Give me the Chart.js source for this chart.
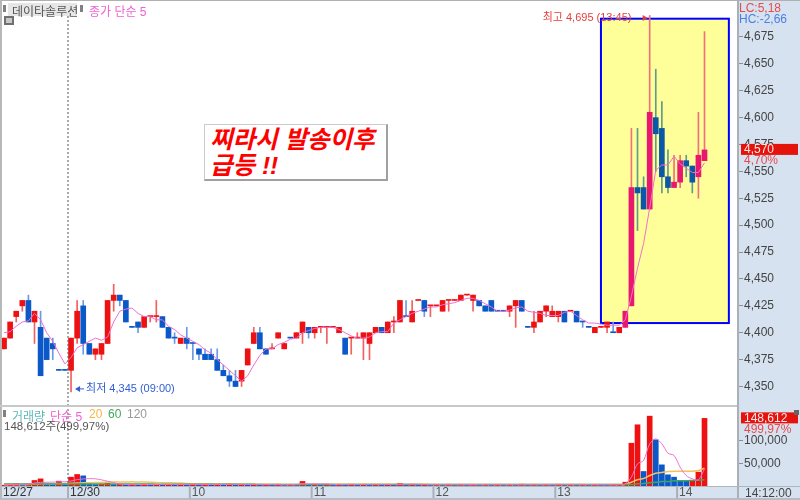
<!DOCTYPE html>
<html>
<head>
<meta charset="utf-8">
<script src="https://cdn.jsdelivr.net/npm/chart.js@4"></script>
<style>
  html, body { margin: 0; padding: 0; background: #fff; }
  #wrap { position: relative; width: 800px; height: 500px; overflow: hidden;
    font-family: "Liberation Sans", "Noto Sans CJK KR", sans-serif; font-size: 11px; color: #444; }
  #wrap div, #wrap span { position: absolute; white-space: nowrap; }
  canvas { position: absolute; left: 0; }
  #priceChart { top: 0; }
  #volumeChart { top: 405px; }
  .sideBar { left: 738px; top: 0; width: 62px; height: 500px; background: #d6e2f0; }
  .bottomBar { left: 0; top: 486px; width: 800px; height: 12px; background: #d6e2f0; }
  .note { left: 204px; top: 124px; width: 181px; height: 54px; background: #fff;
    border: 1px solid #ccc; border-right: 2px solid #a0a0a0; border-bottom: 2px solid #a0a0a0;
    color: #ff0000; font-weight: bold; font-style: italic; font-size: 24.5px; line-height: 26px; }
</style>
</head>
<body>
<div id="wrap">
  <div class="sideBar"></div>
  <div class="bottomBar"></div>
  <canvas id="priceChart" width="800" height="405"></canvas>
  <canvas id="volumeChart" width="800" height="95"></canvas>

  <!-- frame lines -->
  <div style="left:0;top:0;width:800px;height:1px;background:#b0b0b0"></div>
  <div style="left:0;top:0;width:2px;height:500px;background:#b8b8b8"></div>
  <div style="left:0;top:405px;width:738px;height:2px;background:#c8c8c8"></div>
  <div style="left:737px;top:0;width:2px;height:500px;background:#aab0b8"></div>
  <div style="left:0;top:486px;width:800px;height:1px;background:#b0b6be"></div>
  <div style="left:0;top:498px;width:800px;height:2px;background:#b8bcc2"></div>

  <!-- top legend -->
  <div style="left:3px;top:5px;width:3px;height:7px;background:#808080"></div>
  <div style="left:8px;top:3px;width:69px;height:13px;background:#e6e6e6"></div>
  <span style="left:12px;top:2px;font-size:12px;color:#555">데이타솔루션</span>
  <div style="left:80px;top:5px;width:3px;height:7px;background:#808080"></div>
  <span style="left:89px;top:2px;font-size:12px;color:#f060d0">종가 단순 5</span>
  <div style="left:4px;top:16px;width:10px;height:9px;background:#707070"></div>
  <div style="left:6px;top:18px;width:6px;height:5px;background:#c8c8c8"></div>

  <!-- volume legend -->
  <div style="left:3px;top:410px;width:3px;height:7px;background:#808080"></div>
  <span style="left:12px;top:407px;font-size:12px;color:#5fb8b8">거래량</span>
  <span style="left:50px;top:407px;font-size:12px;color:#f060d0">단순 5</span>
  <span style="left:89px;top:407px;font-size:12px;color:#f5b840">20</span>
  <span style="left:108px;top:407px;font-size:12px;color:#40a860">60</span>
  <span style="left:127px;top:407px;font-size:12px;color:#999">120</span>
  <span style="left:4px;top:417px;font-size:11.5px;color:#555">148,612주(499,97%)</span>

  <!-- right side captions -->
  <span style="left:739px;top:1px;font-size:12px;color:#e84a4a">LC:5,18</span>
  <span style="left:739px;top:12px;font-size:12px;color:#4a80e0">HC:-2,66</span>
  <span style="left:745px;top:486px;font-size:12px;line-height:14px;color:#444">14:12:00</span>

  <div class="note"><span style="left:5px;top:2px">찌라시 발송이후<br>급등 !!</span></div>
</div>

<script>
// candles, one per slot, oldest first
const opens = [4385,4395,4415,4425,4430,4410,4405,4395,4390,4365,4365,4365,4395,4425,4390,4380,4380,4390,4430,4435,
  4430,4405,4410,4405,4415,4415,4415,4405,4395,4390,4395,4390,4385,4380,4380,4375,4365,4360,4355,4355,
  4370,4390,4400,4385,4385,4395,4385,4395,4395,4400,4405,4400,4405,4405,4405,4400,4395,4395,4395,4395,
  4390,4400,4405,4400,4410,4410,4415,4410,4430,4430,4425,4425,4420,4430,4430,4430,4435,4430,4430,4425,
  4430,4420,4420,4420,4425,4430,4405,4405,4410,4420,4415,4415,4420,4420,4420,4410,4405,4400,4405,4405,
  4400,4400,4405,4425,4535,4535,4515,4600,4590,4545,4535,4540,4560,4555,4545,4560];
const closes = [4395,4410,4420,4430,4410,4420,4360,4375,4385,4365,4365,4395,4420,4390,4380,4385,4390,4430,4435,4430,
  4410,4405,4405,4415,4415,4415,4405,4395,4395,4395,4390,4390,4380,4375,4375,4365,4360,4355,4350,4365,
  4385,4400,4385,4380,4385,4400,4390,4395,4400,4410,4400,4405,4405,4405,4405,4405,4380,4395,4395,4400,
  4400,4405,4400,4410,4410,4430,4415,4420,4430,4420,4425,4425,4430,4430,4430,4435,4435,4435,4425,4420,
  4420,4420,4420,4425,4430,4420,4405,4410,4420,4425,4420,4420,4410,4420,4410,4410,4405,4405,4405,4410,
  4400,4405,4420,4535,4530,4515,4605,4585,4545,4535,4540,4560,4555,4540,4565,4570];
const highs = [4395,4410,4420,4430,4435,4420,4420,4395,4395,4365,4365,4395,4430,4430,4390,4385,4390,4430,4445,4435,
  4430,4405,4410,4415,4415,4430,4415,4405,4400,4395,4405,4390,4385,4385,4385,4385,4370,4365,4365,4365,
  4385,4405,4405,4385,4390,4400,4390,4395,4400,4410,4405,4405,4405,4405,4405,4405,4395,4395,4400,4400,
  4400,4405,4405,4410,4415,4430,4430,4430,4430,4430,4425,4425,4430,4430,4430,4435,4435,4435,4430,4425,
  4430,4420,4420,4425,4430,4430,4405,4420,4420,4425,4425,4420,4420,4420,4420,4410,4405,4405,4405,4410,
  4410,4405,4420,4590,4590,4545,4695,4645,4615,4570,4565,4565,4565,4555,4605,4680];
const lows = [4385,4395,4410,4420,4410,4390,4360,4375,4375,4365,4365,4345,4390,4380,4380,4375,4375,4390,4420,4425,
  4410,4405,4400,4405,4410,4410,4405,4395,4390,4390,4385,4375,4375,4375,4375,4365,4360,4350,4350,4350,
  4370,4390,4385,4380,4385,4395,4385,4395,4395,4390,4395,4395,4400,4390,4405,4400,4380,4380,4395,4375,
  4375,4400,4400,4400,4400,4410,4415,4410,4430,4415,4415,4425,4420,4420,4430,4430,4435,4420,4425,4420,
  4420,4420,4420,4415,4405,4420,4405,4400,4410,4415,4415,4410,4410,4420,4410,4405,4405,4400,4405,4400,
  4400,4400,4405,4425,4495,4515,4515,4550,4530,4530,4535,4535,4545,4530,4525,4560];
const closeMa5 = [4400,4401,4406,4410,4411,4418,4412,4400,4392,4381,4371,4377,4386,4389,4392,4395,4393,4396,4410,4420,
  4422,4423,4418,4415,4415,4412,4412,4406,4403,4398,4395,4392,4389,4384,4381,4375,4370,4365,4360,4355,
  4360,4370,4379,4385,4385,4389,4391,4394,4395,4400,4402,4404,4405,4405,4405,4403,4400,4397,4395,4395,
  4396,4400,4401,4401,4409,4412,4415,4418,4420,4422,4424,4424,4426,4427,4428,4430,4432,4432,4430,4427,
  4424,4420,4420,4421,4423,4424,4420,4419,4418,4416,4416,4416,4419,4420,4416,4412,4409,4409,4408,4407,
  4407,4407,4412,4434,4460,4483,4516,4551,4556,4556,4564,4557,4553,4549,4549,4558];
// flat candles printed in blue, every other flat one is red
const flatBlue = [9,10,21,28,31,47,66,81,82,86,95,96,100];

const volumes = [1800,2300,4700,2500,4200,12100,15700,4800,2800,10600,3000,19400,25300,22300,4500,3400,3900,8400,3200,3800,
  3000,3600,3200,3900,3100,3500,3000,3700,3300,4000,3400,3800,2900,3300,3000,3900,3500,4100,3200,3600,
  3100,3700,2800,3400,3000,3800,3300,3600,3200,10000,3300,3800,3100,3600,2900,3400,3200,3900,3000,3700,
  3300,3800,3200,3500,3100,6000,3200,3700,2900,3500,3100,3600,3000,3800,3200,3500,2900,3400,3100,3700,
  3300,3600,2800,3500,3000,3900,3100,3400,3000,3700,3200,3800,2900,3500,3100,3600,2800,3300,3000,2800,
  3100,3300,8400,94000,134500,31900,153500,101500,46500,24600,19400,12100,11800,12000,30400,148612];
const volMa5 = [3200,3400,3600,3900,4300,6500,8000,8200,8500,9000,9200,11000,14000,15500,16200,15800,13500,10500,7500,4500,
  3600,3500,3400,3500,3400,3500,3400,3500,3400,3500,3500,3600,3500,3400,3300,3400,3500,3600,3600,3500,
  3400,3500,3400,3300,3200,3400,3300,3400,3400,4600,4400,4500,4300,4400,3400,3400,3300,3400,3300,3500,
  3400,3500,3400,3500,3400,3900,3800,3900,3700,3400,3300,3400,3300,3400,3300,3500,3300,3400,3200,3400,
  3300,3400,3300,3300,3200,3400,3300,3400,3300,3400,3300,3500,3300,3400,3300,3400,3200,3300,3100,3100,
  3000,3100,4750,19400,48700,56000,92700,103650,92700,72150,67000,41400,23000,15750,13550,37700];
const volMa20 = [3000,3100,3200,3300,3500,3900,4300,4500,4700,5000,5300,5800,6400,6900,7200,7500,7800,8300,8800,9000,
  9000,9100,9000,8900,8500,7500,7200,7000,6800,6500,5600,5200,5000,4800,4700,4500,4400,4300,4100,3900,
  3800,3700,3700,3600,3600,3600,3500,3500,3500,3800,3800,3800,3800,3800,3800,3700,3700,3700,3700,3700,
  3600,3600,3600,3600,3600,3800,3800,3800,3700,3700,3500,3500,3500,3500,3500,3500,3400,3400,3400,3400,
  3400,3400,3400,3400,3400,3400,3400,3400,3300,3300,3300,3300,3300,3300,3300,3300,3300,3300,3300,3300,
  3300,3300,3300,8400,13550,16500,23000,28200,29650,31850,32600,32600,32600,32600,34050,39200];
const volMa60 = [4200,4200,4200,4200,4300,4300,4300,4300,4400,4400,4400,4400,4500,4500,4500,4500,4500,4500,4500,4400,
  4400,4300,4300,4200,4200,4100,4100,4000,4000,3900,3900,3800,3800,3800,3700,3700,3700,3600,3600,3600,
  3600,3600,3500,3500,3500,3500,3500,3500,3500,3500,3500,3500,3500,3500,3400,3400,3400,3400,3400,3400,
  3400,3400,3400,3400,3400,3400,3400,3400,3400,3400,3400,3400,3400,3400,3400,3400,3400,3400,3400,3400,
  3400,3400,3400,3400,3400,3400,3400,3400,3400,3400,3400,3400,3400,3400,3300,3300,3300,3300,3300,3300,
  3300,3300,3300,3300,4750,5500,6950,8400,9900,9900,11350,11350,11350,12100,12800,13550];

const priceTicks = [4350,4375,4400,4425,4450,4475,4500,4525,4550,4575,4600,4625,4650,4675];
const volumeTicks = [50000,100000];
const dayLabels = ["12/27","12/30","10","11","12","13","14"];
const dayStarts = [0,11,31,51,71,91,111];
const slotCount = 121;
const categories = Array.from({length: slotCount}, (_, i) => {
  let d = 0;
  dayStarts.forEach((s, k) => { if (i >= s) d = k; });
  return dayLabels[d];
});

const lastPrice = 4570, lastPriceText = "4,570", lastPricePct = "4,70%";
const lastVolume = 148612, lastVolumeText = "148,612", lastVolumePct = "499,97%";
const maxLabel = "최고 4,695 (13:45)", minLabel = "최저 4,345 (09:00)";
const maxIndex = 106, minIndex = 11, maxPrice = 4695, minPrice = 4345;
const boxFromIndex = 98, boxToIndex = 119, boxTopPrice = 4692, boxBottomPrice = 4409;
const cursorIndex = 11;

const FONT = '"Liberation Sans", "Noto Sans CJK KR", sans-serif';

const isUp = (i) => closes[i] > opens[i] || (closes[i] === opens[i] && !flatBlue.includes(i));
const bodyColor = (i) => i >= 102
  ? (isUp(i) ? "#e8186e" : "#0b57a8")
  : (isUp(i) ? "#ee1111" : "#0b58c8");
const wickColor = (i) => i >= 102
  ? (isUp(i) ? "#f2707c" : "#5f9a90")
  : (isUp(i) ? "#f26060" : "#6a9ae4");

const commaTick = (v) => v.toLocaleString("en-US");

const gapLeftOf = (scale, i) => scale.getPixelForValue(i) - (scale.getPixelForValue(1) - scale.getPixelForValue(0)) / 2;

const rightAxis = (tickValues, extra) => Object.assign({
  position: "right",
  // no room reserved for half tick labels, the plot runs to the panel edges
  afterFit: (s) => { s.width = 62; s.paddingTop = 0; s.paddingBottom = 0; },
  afterBuildTicks: (s) => { s.ticks = tickValues.map((value) => ({ value })); },
  border: { display: false },
  grid: { drawOnChartArea: false, color: "#8a8f96", tickLength: 5 },
  ticks: {
    autoSkip: false,
    padding: 1,
    color: "#444",
    font: { family: FONT, size: 12 },
    callback: commaTick,
  },
}, extra);

const cursorLine = (chart, top, bottom) => {
  const c = chart.ctx, x = gapLeftOf(chart.scales.x, cursorIndex);
  c.save();
  c.strokeStyle = "#555";
  c.setLineDash([2, 2]);
  c.beginPath();
  c.moveTo(x, top);
  c.lineTo(x, bottom);
  c.stroke();
  c.restore();
};

const tagBox = (c, y, text, pct) => {
  c.fillStyle = "#e4140c";
  c.fillRect(741, y - 6, 57, 11);
  c.font = "12px " + FONT;
  c.textAlign = "left";
  c.textBaseline = "middle";
  c.fillStyle = "#ffe8e8";
  c.fillText(text, 744, y);
  c.fillStyle = "#e84a4a";
  c.fillText(pct, 744, y + 11);
};

const pricePlugin = {
  id: "pricePlugin",
  beforeDatasetsDraw(chart) {
    const c = chart.ctx, x = chart.scales.x, y = chart.scales.y;
    const l = x.getPixelForValue(boxFromIndex), r = x.getPixelForValue(boxToIndex);
    const t = y.getPixelForValue(boxTopPrice), b = y.getPixelForValue(boxBottomPrice);
    c.save();
    c.fillStyle = "#ffff99";
    c.fillRect(l, t, r - l, b - t);
    c.strokeStyle = "#0000ff";
    c.lineWidth = 2;
    c.strokeRect(l, t, r - l, b - t);
    c.restore();
  },
  afterDraw(chart) {
    const c = chart.ctx, x = chart.scales.x, y = chart.scales.y;
    cursorLine(chart, 16, 405);
    c.save();
    c.font = "11px " + FONT;
    c.textBaseline = "middle";
    c.textAlign = "left";
    // high marker
    const hx = x.getPixelForValue(maxIndex), hy = y.getPixelForValue(maxPrice) + 2.5;
    c.fillStyle = "#e83c3c";
    c.fillText(maxLabel, hx - 107, hy);
    c.beginPath();
    c.moveTo(hx - 7, hy - 3);
    c.lineTo(hx - 2, hy);
    c.lineTo(hx - 7, hy + 3);
    c.fill();
    // low marker
    const lx = x.getPixelForValue(minIndex) + 5, ly = y.getPixelForValue(minPrice) - 3;
    c.fillStyle = "#2f5fd0";
    c.strokeStyle = "#2f5fd0";
    c.beginPath();
    c.moveTo(lx, ly);
    c.lineTo(lx + 8, ly);
    c.stroke();
    c.beginPath();
    c.moveTo(lx - 1, ly);
    c.lineTo(lx + 4, ly - 3);
    c.lineTo(lx + 4, ly + 3);
    c.fill();
    c.fillText(minLabel, lx + 10, ly);
    tagBox(c, y.getPixelForValue(lastPrice), lastPriceText, lastPricePct);
    c.restore();
  },
};

const volumePlugin = {
  id: "volumePlugin",
  afterDraw(chart) {
    const c = chart.ctx, x = chart.scales.x, y = chart.scales.y;
    cursorLine(chart, 0, 81);
    c.save();
    c.font = "12px " + FONT;
    c.textBaseline = "middle";
    c.textAlign = "left";
    dayStarts.forEach((s, k) => {
      const px = k === 0 ? 1 : gapLeftOf(x, s);
      if (k > 0) {
        c.fillStyle = "#aab0b8";
        c.fillRect(px - 1, 81, 2, 12);
      }
      c.fillStyle = k < 2 ? "#333" : "#555";
      c.fillText(dayLabels[k], px + 2, 88);
    });
    tagBox(c, y.getPixelForValue(lastVolume), lastVolumeText, lastVolumePct);
    c.fillStyle = "#666";
    c.fillRect(794, 5, 5, 5);
    c.restore();
  },
};

new Chart(document.getElementById("priceChart"), {
  type: "bar",
  data: {
    labels: categories,
    datasets: [
      {
        type: "line",
        data: closeMa5,
        borderColor: "#ee70d0",
        borderWidth: 1,
        pointRadius: 0,
        tension: 0,
        order: 1,
      },
      {
        data: opens.map((o, i) => [o, closes[i]]),
        backgroundColor: opens.map((o, i) => bodyColor(i)),
        barThickness: 5,
        minBarLength: 1,
        grouped: false,
        order: 2,
      },
      {
        data: lows.map((l, i) => [l, highs[i]]),
        backgroundColor: lows.map((l, i) => wickColor(i)),
        barThickness: 1,
        grouped: false,
        order: 3,
      },
    ],
  },
  options: {
    responsive: false,
    animation: false,
    layout: { padding: { left: 1, top: 3 } },
    plugins: { legend: { display: false }, tooltip: { enabled: false } },
    scales: {
      x: { display: false },
      y: rightAxis(priceTicks, { min: 4332.8, max: 4706.6 }),
    },
  },
  plugins: [pricePlugin],
});

new Chart(document.getElementById("volumeChart"), {
  type: "bar",
  data: {
    labels: categories,
    datasets: [
      { type: "line", data: volMa5, borderColor: "#ee70d0", borderWidth: 1, pointRadius: 0, tension: 0.3, order: 1 },
      { type: "line", data: volMa60, borderColor: "#3aa860", borderWidth: 1.5, pointRadius: 0, tension: 0.3, order: 2 },
      { type: "line", data: volMa20, borderColor: "#f5c060", borderWidth: 1.5, pointRadius: 0, tension: 0.3, order: 3 },
      {
        data: volumes,
        backgroundColor: volumes.map((v, i) => (i === 0 || v > volumes[i - 1] ? "#ee1111" : "#0b58c8")),
        barThickness: 5,
        order: 4,
      },
    ],
  },
  options: {
    responsive: false,
    animation: false,
    layout: { padding: { left: 1, top: 2 } },
    plugins: { legend: { display: false }, tooltip: { enabled: false } },
    scales: {
      x: {
        afterFit: (s) => { s.height = 14; },
        border: { display: false },
        grid: { display: false },
        ticks: { display: false },
      },
      y: rightAxis(volumeTicks, { min: 0, max: 173600 }),
    },
  },
  plugins: [volumePlugin],
});
</script>
</body>
</html>
